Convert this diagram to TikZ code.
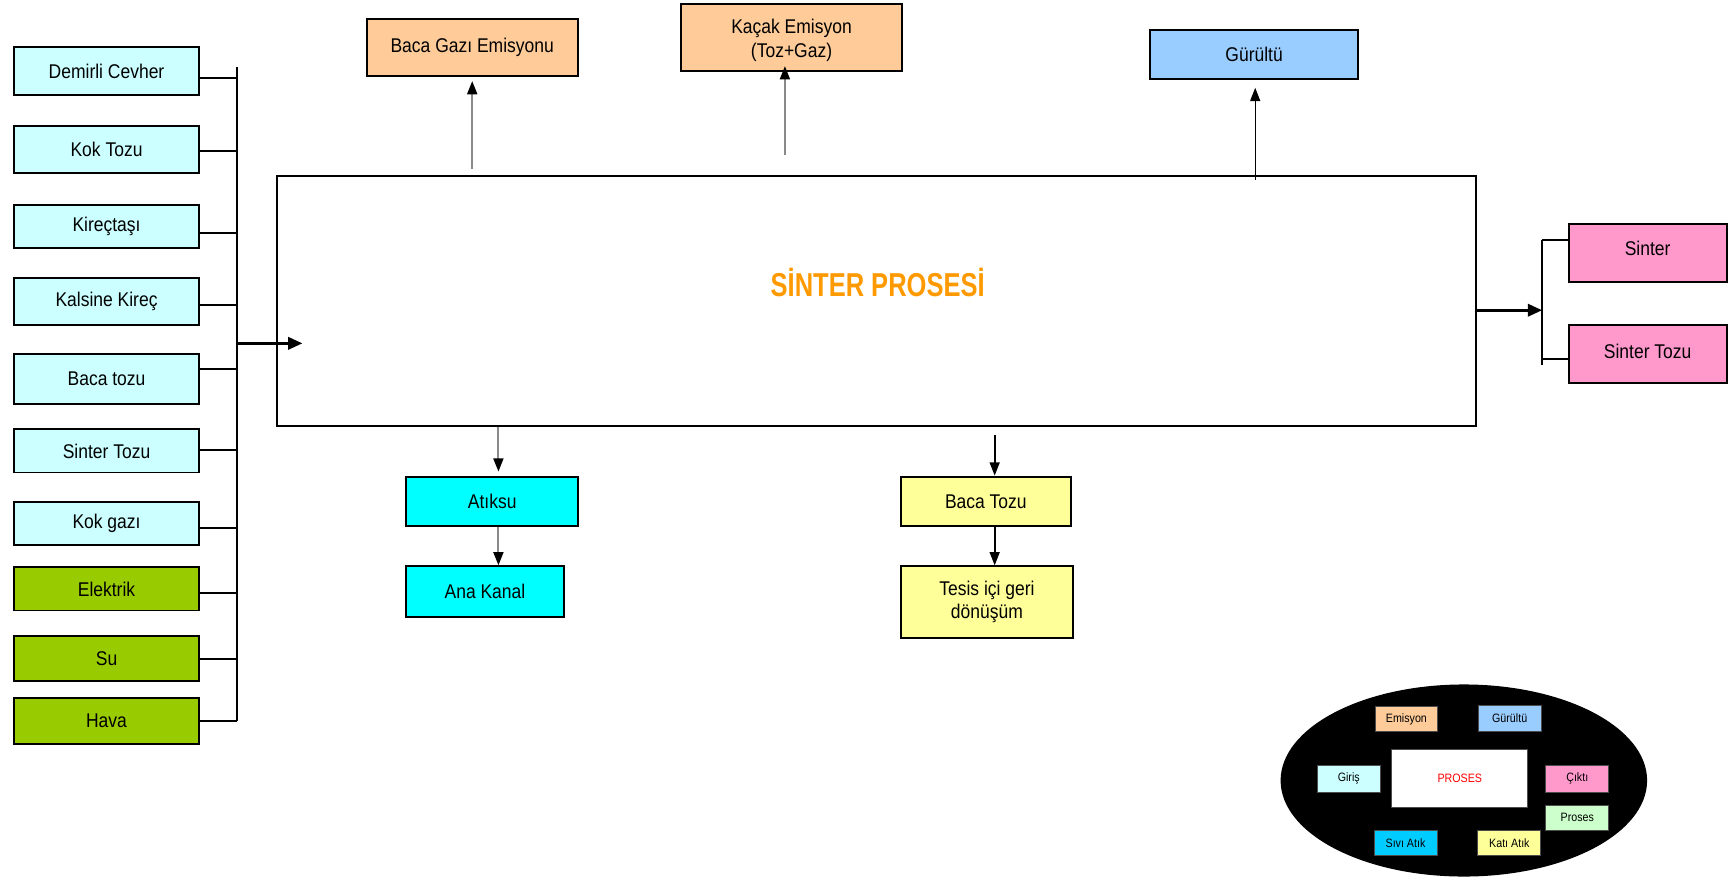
\documentclass[tikz,border=0pt]{standalone}
\usepackage{fontspec}
\setmainfont{Liberation Sans}[FakeStretch=0.88]
\newfontfamily\titlefont{Liberation Sans}[FakeStretch=0.77]
\usetikzlibrary{arrows.meta,shapes.geometric}

\definecolor{incyan}{HTML}{CCFFFF}
\definecolor{ingreen}{HTML}{99CC00}
\definecolor{emis}{HTML}{FFCC99}
\definecolor{noise}{HTML}{99CCFF}
\definecolor{outpink}{HTML}{FF99CC}
\definecolor{water}{HTML}{00FFFF}
\definecolor{solid}{HTML}{FFFF99}
\definecolor{titleor}{HTML}{FF9900}
\definecolor{legwater}{HTML}{00CCFF}
\definecolor{legproc}{HTML}{CCFFCC}
\definecolor{arrowgray}{HTML}{8A8A8A}

\begin{document}
\begin{tikzpicture}[x=0.5pt,y=-0.5pt,
  box/.style={draw=black, line width=0.9pt, inner sep=0pt, align=center,
    font=\fontsize{9}{10.5}\selectfont},
  inbox/.style={box, fill=incyan, minimum width=83.5pt},
  utilbox/.style={box, fill=ingreen, minimum width=83.5pt},
  legbox/.style={draw=black!70, line width=0.4pt, inner sep=0pt,
    font=\fontsize{5.5}{6}\selectfont, minimum width=28.5pt},
  wire/.style={draw=black, line width=0.9pt},
  bigarrow/.style={draw=black, line width=1.4pt, -{Triangle[length=6.5pt,width=5.5pt]}},
  blackarrow/.style={draw=black, line width=0.8pt, -{Triangle[length=6pt,width=4.5pt]}},
  grayarrow/.style={draw=arrowgray, line width=0.9pt, -{Triangle[length=6pt,width=4.5pt,color=black]}}
]
\useasboundingbox (0,0) rectangle (1568,794);

% ---- inputs ----
\node[inbox, minimum height=21.5pt] (in1) at (96.5,64.5) {Demirli Cevher};
\node[inbox, minimum height=21.5pt] (in2) at (96.5,135.5) {Kok Tozu};
\node[inbox, minimum height=19.5pt] (in3) at (96.5,205.5) {Kireçtaşı};
\node[inbox, minimum height=21pt] (in4) at (96.5,273) {Kalsine Kireç};
\node[inbox, minimum height=22.5pt] (in5) at (96.5,343.5) {Baca tozu};
\node[inbox, minimum height=19.5pt] (in6) at (96.5,408.5) {Sinter Tozu};
\node[inbox, minimum height=19.5pt] (in7) at (96.5,474.5) {Kok gazı};
\node[utilbox, minimum height=19.5pt] (in8) at (96.5,533.5) {Elektrik};
\node[utilbox, minimum height=20.5pt] (in9) at (96.5,596.5) {Su};
\node[utilbox, minimum height=21pt] (in10) at (96.5,653) {Hava};

% input collector bus
\coordinate (lbT) at (215,61);
\coordinate (lbB) at (215,653);
\draw[wire] (lbT) -- (lbB);
\foreach \n/\s in {in1/-3.1, in2/-0.6, in3/-2.75, in4/-1.5, in5/4.5,
                   in6/0.4, in7/-1.75, in8/-1.75, in9/0, in10/0} {
  \coordinate (tmp) at ([yshift=\s pt]\n.east);
  \draw[wire] (tmp) -- (tmp -| lbT);
}

% ---- process ----
\node[box, minimum width=543pt, minimum height=113.5pt] (main) at (794,272.5) {};
\node[font=\titlefont\bfseries\fontsize{15}{17}\selectfont, text=titleor] (title) at (795,256) {SİNTER PROSESİ};

\coordinate (inS) at (215,311);
\coordinate (inE) at (274,311);
\draw[bigarrow] (inS) -- (inE);

% ---- emissions ----
\node[box, fill=emis, minimum width=95.75pt, minimum height=25.75pt] (bg) at (427.75,43.25) {Baca Gazı Emisyonu};
\node[box, fill=emis, minimum width=100pt, minimum height=30pt] (ke) at (717,34) {\rule{0pt}{9pt}Kaçak Emisyon\\(Toz+Gaz)};
\node[box, fill=noise, minimum width=94pt, minimum height=22.2pt] (gu) at (1136,49.4) {Gürültü};

\draw[grayarrow, shorten <=2.5pt, shorten >=1.75pt] (main.north -| bg.south) -- (bg.south);
\coordinate (keS) at (711,140);
\draw[grayarrow, shorten >=-2.5pt] (keS) -- (keS |- ke.south);
\coordinate (guS) at (1137,163);
\draw[blackarrow, line width=0.6pt, shorten >=3.5pt] (guS) -- (guS |- gu.south);

% ---- outputs ----
\node[box, fill=outpink, minimum width=71.5pt, minimum height=26pt] (out1) at (1492.5,229) {Sinter\rule[-4pt]{0pt}{4pt}};
\node[box, fill=outpink, minimum width=71.5pt, minimum height=26.5pt] (out2) at (1492.5,320.5) {Sinter Tozu\rule[-2pt]{0pt}{2pt}};

\coordinate (rb) at (1397,281);
\draw[bigarrow] (main.east |- rb) -- (rb);
\coordinate (rbT) at (1397,217);
\coordinate (rbB) at (1397,331);
\coordinate (rc2) at (1397,325);
\draw[wire] (rbT) -- (rbB);
\draw[wire] (rbT) -- (rbT -| out1.west);
\draw[wire] (rc2) -- (rc2 -| out2.west);

% ---- wastes ----
\node[box, fill=water, minimum width=77.85pt, minimum height=22.4pt] (atk) at (445.85,454.1) {Atıksu};
\node[box, fill=water, minimum width=71.3pt, minimum height=22.8pt] (ana) at (439.3,535.8) {Ana Kanal};
\node[box, fill=solid, minimum width=77pt, minimum height=22.4pt] (bt) at (893,454.1) {Baca Tozu};
\node[box, fill=solid, minimum width=78pt, minimum height=32.5pt] (tes) at (894,545.5) {Tesis içi geri\\dönüşüm};

\coordinate (aX) at (451.5,0);
\draw[grayarrow, shorten >=1.8pt] (main.south -| aX) -- (atk.north -| aX);
\draw[grayarrow] (atk.south -| aX) -- (ana.north -| aX);
\coordinate (bS) at (901,394);
\draw[blackarrow] (bS) -- (bS |- bt.north);
\draw[blackarrow] (bt.south -| bS) -- (tes.north -| bS);

% ---- legend ----
\node[ellipse, fill=black, minimum width=166pt, minimum height=87pt, inner sep=0pt] (leg) at (1326,707) {};
\node[legbox, fill=emis, minimum height=11.75pt] (lemis) at (1274,651.25) {Emisyon};
\node[legbox, fill=noise, minimum height=12.2pt] (lnoise) at (1367.5,650.8) {Gürültü};
\node[legbox, fill=incyan, minimum height=12.5pt] (lin) at (1221.75,705.5) {Giriş};
\node[legbox, fill=white, minimum width=61.7pt, minimum height=26.3pt, text=red] (lproc) at (1322.3,705.3) {PROSES};
\node[legbox, fill=outpink, minimum height=12.5pt] (lout) at (1428.75,705.5) {Çıktı};
\node[legbox, fill=legproc, minimum height=11pt] (lpr) at (1428.75,740.8) {Proses};
\node[legbox, fill=legwater, minimum height=11.3pt] (lliq) at (1273.15,763.7) {Sıvı Atık};
\node[legbox, fill=solid, minimum height=11.3pt] (lsol) at (1367.25,763.7) {Katı Atık};
\end{tikzpicture}
\end{document}
